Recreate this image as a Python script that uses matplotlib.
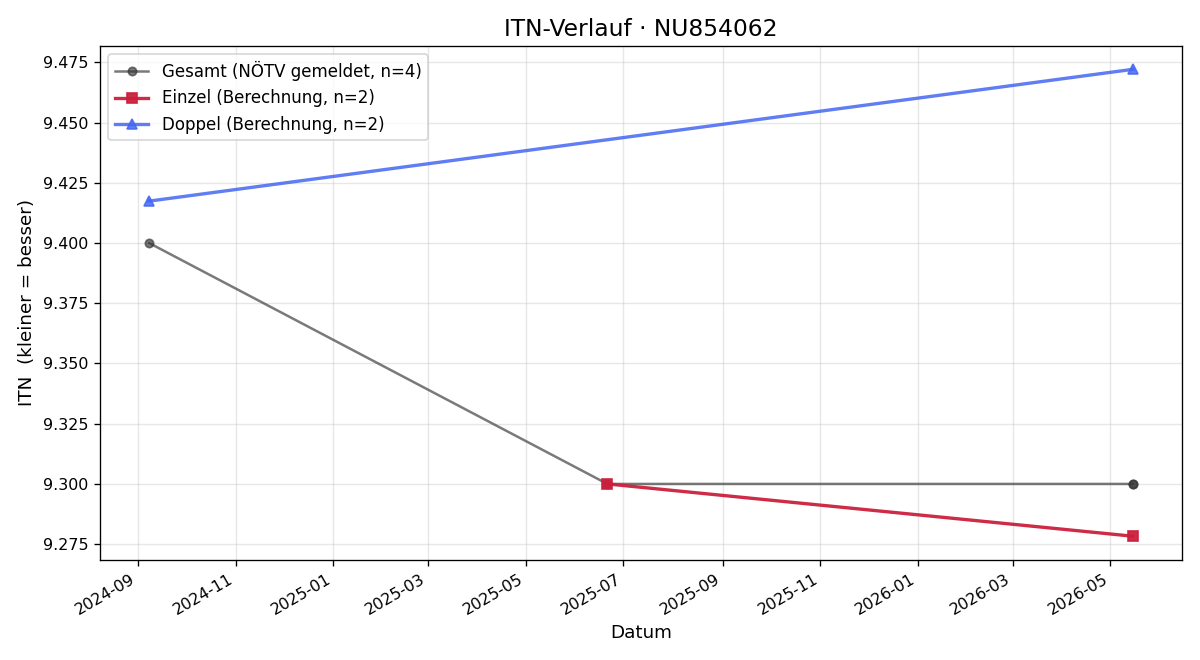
import matplotlib
matplotlib.use("Agg")
import matplotlib.pyplot as plt
import matplotlib.dates as mdates
import pandas as pd

# ── Data ─────────────────────────────────────────────────────────────
gesamt_dates = ["2024-09-08", "2025-06-21", "2026-05-15", "2026-05-15"]
gesamt_itn = [9.400, 9.300, 9.300, 9.300]

einzel_dates = ["2025-06-21", "2026-05-15"]
einzel_itn = [9.300, 9.2783]

doppel_dates = ["2024-09-08", "2026-05-15"]
doppel_itn = [9.4174, 9.4721]

player_id = "NU854062"

# ── Plot ─────────────────────────────────────────────────────────────
fig, ax = plt.subplots(figsize=(10, 5.5), dpi=120)

ax.plot(pd.to_datetime(gesamt_dates), gesamt_itn, marker="o", markersize=5,
        linewidth=1.5, color="#333333", alpha=0.65,
        label="Gesamt (NÖTV gemeldet, n=4)")
ax.plot(pd.to_datetime(einzel_dates), einzel_itn, marker="s", markersize=6,
        linewidth=2.0, color="#cc1f3d", alpha=0.95,
        label="Einzel (Berechnung, n=2)")
ax.plot(pd.to_datetime(doppel_dates), doppel_itn, marker="^", markersize=6,
        linewidth=2.0, color="#4466f2", alpha=0.85,
        label="Doppel (Berechnung, n=2)")

ax.set_title(f"ITN-Verlauf · {player_id}", fontsize=14)
ax.set_xlabel("Datum", fontsize=11)
ax.set_ylabel("ITN  (kleiner = besser)", fontsize=11)
ax.grid(True, alpha=0.3)
ax.legend(loc="upper left", fontsize=10)
ax.tick_params(labelsize=9.5)

ax.xaxis.set_major_locator(mdates.MonthLocator(bymonth=[1, 3, 5, 7, 9, 11]))
ax.xaxis.set_major_formatter(mdates.DateFormatter("%Y-%m"))
fig.autofmt_xdate()

plt.tight_layout()
fig.savefig("out.png", dpi=120)
